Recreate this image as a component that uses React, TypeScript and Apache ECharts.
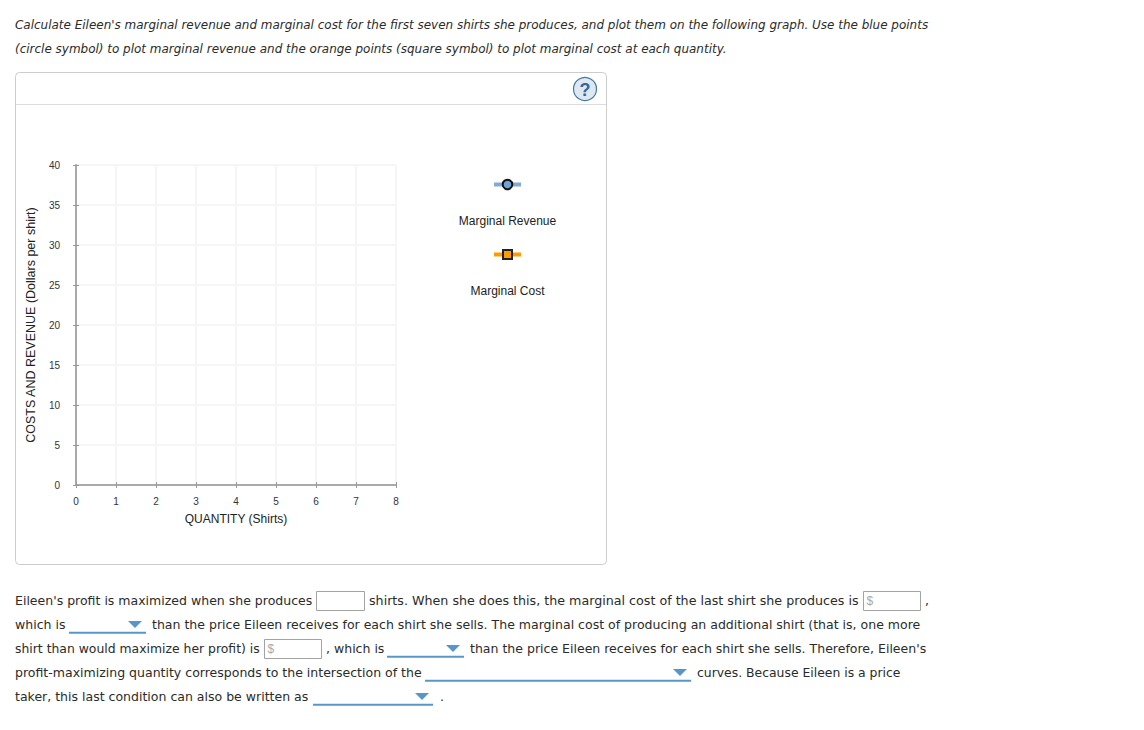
import React, { useEffect, useRef } from "react";
import * as echarts from "echarts";

const quantityTicks = [0, 1, 2, 3, 4, 5, 6, 7, 8];
const costTicks = [0, 5, 10, 15, 20, 25, 30, 35, 40];
const marginalRevenue: number[][] = [];
const marginalCost: number[][] = [];
const legendNames = ["Marginal Revenue", "Marginal Cost"];
const xTitle = "QUANTITY (Shirts)";
const yTitle = "COSTS AND REVENUE (Dollars per shirt)";
const intro = [
  "Calculate Eileen's marginal revenue and marginal cost for the first seven shirts she produces, and plot them on the following graph. Use the blue points",
  "(circle symbol) to plot marginal revenue and the orange points (square symbol) to plot marginal cost at each quantity.",
];

const BODY = "12.53px 'DejaVu Sans', sans-serif";
const BODY_WIDE = "12.68px 'DejaVu Sans', sans-serif";
const BODY_NARROW = "12.4px 'DejaVu Sans', sans-serif";
const ITALIC = "italic 11.98px 'DejaVu Sans', sans-serif";
const ARIAL = "'Liberation Sans', Arial, sans-serif";
const BLUE = "#5796cb";
const INK = "#2b2b2b";

const txt = (text: string, x: number, y: number, font = BODY, fill = INK, align = "left") => ({
  type: "text",
  x,
  y,
  silent: true,
  style: { text, font, fill, align, verticalAlign: "middle" },
});

const box = (x: number, y: number, w: number, dollar: boolean) => {
  const items: any[] = [
    {
      type: "rect",
      shape: { x: x + 0.5, y: y + 0.5, width: w, height: 19 },
      style: { fill: "#fff", stroke: "#a3a3a3", lineWidth: 1 },
    },
  ];
  if (dollar) items.push(txt("$", x + 3.5, y + 10, `12px ${ARIAL}`, "#a8a8a8"));
  return items;
};

const dropdown = (x1: number, x2: number, y: number) => [
  { type: "line", shape: { x1, y1: y + 9.7, x2, y2: y + 9.7 }, style: { stroke: BLUE, lineWidth: 2 } },
  {
    type: "polygon",
    shape: { points: [[x2 - 18, y - 2], [x2 - 4, y - 2], [x2 - 11, y + 5]] },
    style: { fill: BLUE },
  },
];

function buildGraphic() {
  const g: any[] = [];
  g.push(
    {
      type: "rect",
      shape: { x: 15.5, y: 72.5, width: 591, height: 492, r: 4 },
      style: { fill: "#fff", stroke: "#ccc", lineWidth: 1 },
      z: -1,
    },
    { type: "line", shape: { x1: 16, y1: 104.5, x2: 606, y2: 104.5 }, style: { stroke: "#ddd", lineWidth: 1 } },
    { type: "circle", shape: { cx: 585, cy: 89, r: 11.5 }, style: { fill: "#dfe8f0", stroke: "#3f78ab", lineWidth: 1.2 } },
    txt("?", 585, 90, `bold 18px ${ARIAL}`, "#31689b", "center"),
    txt(intro[0], 15, 25, ITALIC),
    txt(intro[1], 15, 49, ITALIC),
    // legend
    { type: "line", shape: { x1: 494, y1: 184.5, x2: 521, y2: 184.5 }, style: { stroke: "#82abd3", lineWidth: 4 } },
    { type: "circle", shape: { cx: 507.5, cy: 184.5, r: 4.8 }, style: { fill: "#6fa3d6", stroke: "#111", lineWidth: 2 } },
    txt(legendNames[0], 507.5, 220.5, `12px ${ARIAL}`, "#222", "center"),
    { type: "line", shape: { x1: 494, y1: 254.5, x2: 521, y2: 254.5 }, style: { stroke: "#ff9a00", lineWidth: 4 } },
    { type: "rect", shape: { x: 503, y: 250, width: 9, height: 9 }, style: { fill: "#ff9a00", stroke: "#222", lineWidth: 2 } },
    txt(legendNames[1], 507.5, 290.5, `12px ${ARIAL}`, "#222", "center"),
    // passage
    txt("Eileen's profit is maximized when she produces", 15, 600),
    ...box(316, 591, 48, false),
    txt("shirts. When she does this, the marginal cost of the last shirt she produces is", 369, 600, BODY_WIDE),
    ...box(863, 591, 57, true),
    txt(",", 925, 600),
    txt("which is", 15, 624),
    ...dropdown(69, 146, 623),
    txt("than the price Eileen receives for each shirt she sells. The marginal cost of producing an additional shirt (that is, one more", 152, 624),
    txt("shirt than would maximize her profit) is", 15, 648, BODY_NARROW),
    ...box(264, 639, 57, true),
    txt(", which is", 326, 648),
    ...dropdown(387, 464, 647),
    txt("than the price Eileen receives for each shirt she sells. Therefore, Eileen's", 470, 648),
    txt("profit-maximizing quantity corresponds to the intersection of the", 15, 672),
    ...dropdown(425, 691, 671),
    txt("curves. Because Eileen is a price", 697, 672, BODY_NARROW),
    txt("taker, this last condition can also be written as", 15, 696),
    ...dropdown(313, 433, 695),
    txt(".", 440, 696)
  );
  return g;
}

export default function App() {
  const ref = useRef<HTMLDivElement>(null);
  useEffect(() => {
    document.body.style.margin = "0";
    document.body.style.background = "#fff";
    const chart = echarts.init(ref.current!, undefined, { renderer: "svg" });
    const axisLine = { show: true, onZero: false, lineStyle: { color: "#aaa", width: 2 } };
    const tick = { show: true, length: 3, lineStyle: { color: "#999", width: 1 } };
    const label = { color: "#333", fontSize: 10, fontFamily: ARIAL };
    const nameStyle = { color: "#222", fontSize: 12, fontFamily: ARIAL };
    const split = { show: true, lineStyle: { color: "#f6f6f6", width: 2 } };
    chart.setOption({
      animation: false,
      graphic: { elements: buildGraphic() },
      grid: { left: 76, top: 165, width: 320, height: 320 },
      xAxis: [
        {
          type: "value",
          min: quantityTicks[0],
          max: quantityTicks[quantityTicks.length - 1],
          interval: 1,
          axisLine,
          axisTick: tick,
          axisLabel: { ...label, margin: 11, formatter: (v: number) => String(v) },
          splitLine: split,
          name: xTitle,
          nameLocation: "middle",
          nameGap: 28,
          nameTextStyle: nameStyle,
        },
        {
          type: "value",
          position: "bottom",
          min: quantityTicks[0],
          max: quantityTicks[quantityTicks.length - 1],
          interval: 1,
          axisLine: { show: false },
          axisTick: { ...tick, inside: true },
          axisLabel: { show: false },
          splitLine: { show: false },
        },
      ],
      yAxis: [
        {
          type: "value",
          min: costTicks[0],
          max: costTicks[costTicks.length - 1],
          interval: 5,
          axisLine,
          axisTick: tick,
          axisLabel: { ...label, margin: 16 },
          splitLine: split,
          name: yTitle,
          nameLocation: "middle",
          nameGap: 39,
          nameRotate: 90,
          nameTextStyle: { ...nameStyle, fontSize: 12.5 },
        },
        {
          type: "value",
          position: "left",
          min: costTicks[0],
          max: costTicks[costTicks.length - 1],
          interval: 5,
          axisLine: { show: false },
          axisTick: { ...tick, inside: true },
          axisLabel: { show: false },
          splitLine: { show: false },
        },
      ],
      series: [
        {
          name: legendNames[0],
          type: "line",
          data: marginalRevenue,
          symbol: "circle",
          itemStyle: { color: "#6fa3d6" },
        },
        {
          name: legendNames[1],
          type: "line",
          data: marginalCost,
          symbol: "rect",
          itemStyle: { color: "#ff9a00" },
        },
      ],
    });
    return () => chart.dispose();
  }, []);
  return <div ref={ref} style={{ width: 1144, height: 730 }} />;
}
